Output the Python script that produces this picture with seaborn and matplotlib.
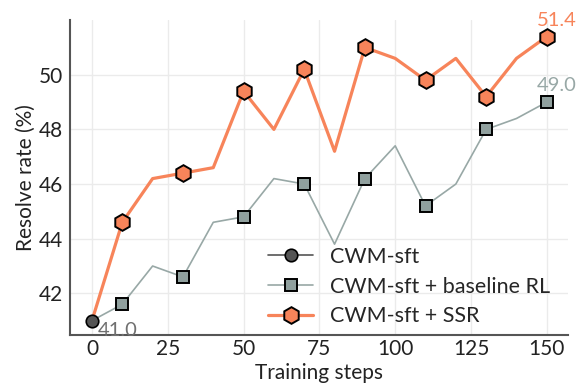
import seaborn as sns
import matplotlib.pyplot as plt

# data
steps = [0, 10, 20, 30, 40, 50, 60, 70, 80, 90, 100, 110, 120, 130, 140, 150]
ssr = [41.0, 44.6, 46.2, 46.4, 46.6, 49.4, 48.0, 50.2, 47.2, 51.0, 50.6, 49.8, 50.6, 49.2, 50.6, 51.4]
baseline = [41.0, 41.6, 43.0, 42.6, 44.6, 44.8, 46.2, 46.0, 43.8, 46.2, 47.4, 45.2, 46.0, 48.0, 48.4, 49.0]
sft_step = [0]
sft_val = [41.0]
marked = [1, 3, 5, 7, 9, 11, 13, 15]

orange = '#F7845A'
grey = '#98A8A6'
dark = '#555555'

sns.set_theme(style='whitegrid')
plt.rcParams['font.family'] = ['Lato', 'DejaVu Sans']

fig = plt.figure(figsize=(5.82, 3.87), dpi=100)
ax = fig.add_axes([0.12, 0.134, 0.856, 0.814])

sns.lineplot(x=steps, y=baseline, ax=ax, color=grey, linewidth=1.2,
             marker='s', markevery=marked, markersize=8.8,
             markerfacecolor='#90A09E', markeredgecolor='black', markeredgewidth=1.4,
             label='CWM-sft + baseline RL', zorder=3)
sns.lineplot(x=steps, y=ssr, ax=ax, color=orange, linewidth=2.3,
             marker='h', markevery=marked, markersize=12,
             markerfacecolor=orange, markeredgecolor='black', markeredgewidth=1.4,
             label='CWM-sft + SSR', zorder=4)
sns.lineplot(x=sft_step, y=sft_val, ax=ax, color=dark, linewidth=1.2,
             marker='o', markersize=9, markerfacecolor=dark,
             markeredgecolor='black', markeredgewidth=1.2,
             label='CWM-sft', zorder=5)

ax.text(150 + 3.2, ssr[-1] + 0.28, '51.4', color=orange, fontsize=14.5, ha='center', va='bottom')
ax.text(150 + 3.2, baseline[-1] + 0.28, '49.0', color=grey, fontsize=14.5, ha='center', va='bottom')
ax.text(2, 41.0 - 0.05, '41.0', color='#707070', fontsize=14.5, ha='left', va='top')

ax.set_xlim(-7.3, 157)
ax.set_ylim(40.47, 52)
ax.set_xticks([0, 25, 50, 75, 100, 125, 150])
ax.set_yticks([42, 44, 46, 48, 50])
ax.tick_params(labelsize=15, colors='#222222', length=0)
ax.tick_params(axis='x', pad=3)
ax.tick_params(axis='y', pad=5)
ax.set_xlabel('Training steps', fontsize=15, color='#222222', labelpad=3)
ax.set_ylabel('Resolve rate (%)', fontsize=15, color='#222222', labelpad=2)

ax.grid(True, color='#EBEBEB', linewidth=1)
for s in ['top', 'right']:
    ax.spines[s].set_visible(False)
for s in ['left', 'bottom']:
    ax.spines[s].set_color('#555555')
    ax.spines[s].set_linewidth(1.5)

handles, labels = ax.get_legend_handles_labels()
order = [2, 0, 1]
ax.legend([handles[i] for i in order], [labels[i] for i in order],
          loc='lower right', bbox_to_anchor=(0.995, -0.02), frameon=False,
          fontsize=15.5, handlelength=2.1, handletextpad=0.8,
          labelspacing=0.45, borderaxespad=0.3)

fig.savefig('out.png', dpi=100)
